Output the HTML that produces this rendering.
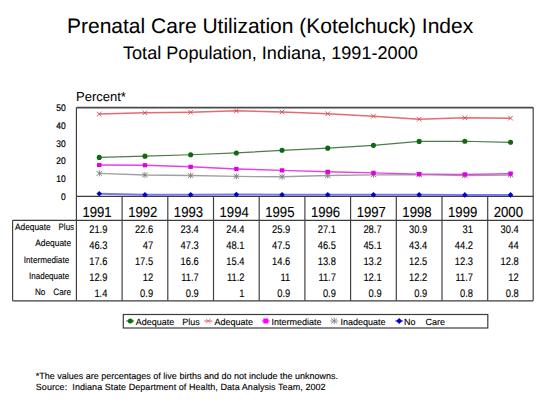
<!DOCTYPE html>
<html><head><meta charset="utf-8"><style>
html,body{margin:0;padding:0;background:#fff;width:540px;height:405px;overflow:hidden}
svg{display:block}
text{font-family:"Liberation Sans",sans-serif;text-rendering:geometricPrecision;fill:#000;stroke:#000;stroke-width:0.12px}
</style></head><body>
<svg width="540" height="405" viewBox="0 0 540 405">
<rect x="0" y="0" width="540" height="405" fill="#fff"/>

<text x="67" y="33.1" font-size="21" style="stroke-width:0.05px">Prenatal Care Utilization (Kotelchuck) Index</text>
<text x="123" y="59.1" font-size="18.1" style="stroke-width:0.05px">Total Population, Indiana, 1991-2000</text>
<text x="76" y="100.8" font-size="13" style="stroke-width:0.05px">Percent*</text>
<text transform="translate(65.7,111.00) scale(0.88,1)" font-size="9.6" style="stroke-width:0.22px" text-anchor="end">50</text>
<text transform="translate(65.7,128.76) scale(0.88,1)" font-size="9.6" style="stroke-width:0.22px" text-anchor="end">40</text>
<text transform="translate(65.7,146.52) scale(0.88,1)" font-size="9.6" style="stroke-width:0.22px" text-anchor="end">30</text>
<text transform="translate(65.7,164.28) scale(0.88,1)" font-size="9.6" style="stroke-width:0.22px" text-anchor="end">20</text>
<text transform="translate(65.7,182.04) scale(0.88,1)" font-size="9.6" style="stroke-width:0.22px" text-anchor="end">10</text>
<text transform="translate(65.7,199.80) scale(0.88,1)" font-size="9.6" style="stroke-width:0.22px" text-anchor="end">0</text>
<line x1="76.4" y1="107.7" x2="533.2" y2="107.7" stroke="#4a4a4a" stroke-width="1.7"/>
<line x1="76.4" y1="196.3" x2="533.2" y2="196.3" stroke="#3c3c3c" stroke-width="1.15"/>
<line x1="12.6" y1="220.3" x2="533.2" y2="220.3" stroke="#3c3c3c" stroke-width="1.15"/>
<line x1="12.6" y1="300.8" x2="533.2" y2="300.8" stroke="#3c3c3c" stroke-width="1.15"/>
<line x1="12.6" y1="220.3" x2="12.6" y2="300.8" stroke="#3c3c3c" stroke-width="1.15"/>
<line x1="76.4" y1="107.5" x2="76.4" y2="300.8" stroke="#3c3c3c" stroke-width="1.15"/>
<line x1="533.2" y1="107.5" x2="533.2" y2="300.8" stroke="#3c3c3c" stroke-width="1.15"/>
<line x1="122.10000000000001" y1="196.3" x2="122.10000000000001" y2="300.8" stroke="#3c3c3c" stroke-width="1.15"/>
<line x1="167.8" y1="196.3" x2="167.8" y2="300.8" stroke="#3c3c3c" stroke-width="1.15"/>
<line x1="213.50000000000003" y1="196.3" x2="213.50000000000003" y2="300.8" stroke="#3c3c3c" stroke-width="1.15"/>
<line x1="259.20000000000005" y1="196.3" x2="259.20000000000005" y2="300.8" stroke="#3c3c3c" stroke-width="1.15"/>
<line x1="304.9" y1="196.3" x2="304.9" y2="300.8" stroke="#3c3c3c" stroke-width="1.15"/>
<line x1="350.6" y1="196.3" x2="350.6" y2="300.8" stroke="#3c3c3c" stroke-width="1.15"/>
<line x1="396.30000000000007" y1="196.3" x2="396.30000000000007" y2="300.8" stroke="#3c3c3c" stroke-width="1.15"/>
<line x1="442.0" y1="196.3" x2="442.0" y2="300.8" stroke="#3c3c3c" stroke-width="1.15"/>
<line x1="487.70000000000005" y1="196.3" x2="487.70000000000005" y2="300.8" stroke="#3c3c3c" stroke-width="1.15"/>
<polyline points="99.25,114.07 144.95,112.83 190.65,112.30 236.35,110.87 282.05,111.94 327.75,113.72 373.45,116.20 419.15,119.22 464.85,117.80 510.55,118.16" fill="none" stroke="#e26c72" stroke-width="1.5"/>
<polyline points="99.25,157.41 144.95,156.16 190.65,154.74 236.35,152.97 282.05,150.30 327.75,148.17 373.45,145.33 419.15,141.42 464.85,141.24 510.55,142.31" fill="none" stroke="#4c7c4c" stroke-width="1.2"/>
<polyline points="99.25,173.39 144.95,174.99 190.65,175.52 236.35,176.41 282.05,176.76 327.75,175.52 373.45,174.81 419.15,174.63 464.85,175.52 510.55,174.99" fill="none" stroke="#a0a0a0" stroke-width="1.3"/>
<polyline points="99.25,165.04 144.95,165.22 190.65,166.82 236.35,168.95 282.05,170.37 327.75,171.79 373.45,172.86 419.15,174.10 464.85,174.46 510.55,173.57" fill="none" stroke="#e840e8" stroke-width="1.4"/>
<polyline points="99.25,193.81 144.95,194.70 190.65,194.70 236.35,194.52 282.05,194.70 327.75,194.70 373.45,194.70 419.15,194.70 464.85,194.88 510.55,194.88" fill="none" stroke="#7878f0" stroke-width="2.0"/>
<path d="M96.95,111.77L101.55,116.37M96.95,116.37L101.55,111.77" stroke="#d84858" stroke-width="0.9"/>
<path d="M142.65,110.53L147.25,115.13M142.65,115.13L147.25,110.53" stroke="#d84858" stroke-width="0.9"/>
<path d="M188.35,110.00L192.95,114.60M188.35,114.60L192.95,110.00" stroke="#d84858" stroke-width="0.9"/>
<path d="M234.05,108.57L238.65,113.17M234.05,113.17L238.65,108.57" stroke="#d84858" stroke-width="0.9"/>
<path d="M279.75,109.64L284.35,114.24M279.75,114.24L284.35,109.64" stroke="#d84858" stroke-width="0.9"/>
<path d="M325.45,111.42L330.05,116.02M325.45,116.02L330.05,111.42" stroke="#d84858" stroke-width="0.9"/>
<path d="M371.15,113.90L375.75,118.50M371.15,118.50L375.75,113.90" stroke="#d84858" stroke-width="0.9"/>
<path d="M416.85,116.92L421.45,121.52M416.85,121.52L421.45,116.92" stroke="#d84858" stroke-width="0.9"/>
<path d="M462.55,115.50L467.15,120.10M462.55,120.10L467.15,115.50" stroke="#d84858" stroke-width="0.9"/>
<path d="M508.25,115.86L512.85,120.46M508.25,120.46L512.85,115.86" stroke="#d84858" stroke-width="0.9"/>
<circle cx="99.25" cy="157.41" r="2.55" fill="#0e6a0e"/>
<circle cx="144.95" cy="156.16" r="2.55" fill="#0e6a0e"/>
<circle cx="190.65" cy="154.74" r="2.55" fill="#0e6a0e"/>
<circle cx="236.35" cy="152.97" r="2.55" fill="#0e6a0e"/>
<circle cx="282.05" cy="150.30" r="2.55" fill="#0e6a0e"/>
<circle cx="327.75" cy="148.17" r="2.55" fill="#0e6a0e"/>
<circle cx="373.45" cy="145.33" r="2.55" fill="#0e6a0e"/>
<circle cx="419.15" cy="141.42" r="2.55" fill="#0e6a0e"/>
<circle cx="464.85" cy="141.24" r="2.55" fill="#0e6a0e"/>
<circle cx="510.55" cy="142.31" r="2.55" fill="#0e6a0e"/>
<path d="M96.45,171.09L102.05,175.69M96.45,175.69L102.05,171.09M99.25,170.39L99.25,176.39" stroke="#7a7a7a" stroke-width="0.9"/>
<path d="M142.15,172.69L147.75,177.29M142.15,177.29L147.75,172.69M144.95,171.99L144.95,177.99" stroke="#7a7a7a" stroke-width="0.9"/>
<path d="M187.85,173.22L193.45,177.82M187.85,177.82L193.45,173.22M190.65,172.52L190.65,178.52" stroke="#7a7a7a" stroke-width="0.9"/>
<path d="M233.55,174.11L239.15,178.71M233.55,178.71L239.15,174.11M236.35,173.41L236.35,179.41" stroke="#7a7a7a" stroke-width="0.9"/>
<path d="M279.25,174.46L284.85,179.06M279.25,179.06L284.85,174.46M282.05,173.76L282.05,179.76" stroke="#7a7a7a" stroke-width="0.9"/>
<path d="M324.95,173.22L330.55,177.82M324.95,177.82L330.55,173.22M327.75,172.52L327.75,178.52" stroke="#7a7a7a" stroke-width="0.9"/>
<path d="M370.65,172.51L376.25,177.11M370.65,177.11L376.25,172.51M373.45,171.81L373.45,177.81" stroke="#7a7a7a" stroke-width="0.9"/>
<path d="M416.35,172.33L421.95,176.93M416.35,176.93L421.95,172.33M419.15,171.63L419.15,177.63" stroke="#7a7a7a" stroke-width="0.9"/>
<path d="M462.05,173.22L467.65,177.82M462.05,177.82L467.65,173.22M464.85,172.52L464.85,178.52" stroke="#7a7a7a" stroke-width="0.9"/>
<path d="M507.75,172.69L513.35,177.29M507.75,177.29L513.35,172.69M510.55,171.99L510.55,177.99" stroke="#7a7a7a" stroke-width="0.9"/>
<rect x="97.05" y="162.94" width="4.4" height="4.2" fill="#e000e0"/>
<rect x="142.75" y="163.12" width="4.4" height="4.2" fill="#e000e0"/>
<rect x="188.45" y="164.72" width="4.4" height="4.2" fill="#e000e0"/>
<rect x="234.15" y="166.85" width="4.4" height="4.2" fill="#e000e0"/>
<rect x="279.85" y="168.27" width="4.4" height="4.2" fill="#e000e0"/>
<rect x="325.55" y="169.69" width="4.4" height="4.2" fill="#e000e0"/>
<rect x="371.25" y="170.76" width="4.4" height="4.2" fill="#e000e0"/>
<rect x="416.95" y="172.00" width="4.4" height="4.2" fill="#e000e0"/>
<rect x="462.65" y="172.36" width="4.4" height="4.2" fill="#e000e0"/>
<rect x="508.35" y="171.47" width="4.4" height="4.2" fill="#e000e0"/>
<path d="M99.25,191.01L102.05,193.81L99.25,196.61L96.45,193.81Z" fill="#0000c8"/>
<path d="M144.95,191.90L147.75,194.70L144.95,197.50L142.15,194.70Z" fill="#0000c8"/>
<path d="M190.65,191.90L193.45,194.70L190.65,197.50L187.85,194.70Z" fill="#0000c8"/>
<path d="M236.35,191.72L239.15,194.52L236.35,197.32L233.55,194.52Z" fill="#0000c8"/>
<path d="M282.05,191.90L284.85,194.70L282.05,197.50L279.25,194.70Z" fill="#0000c8"/>
<path d="M327.75,191.90L330.55,194.70L327.75,197.50L324.95,194.70Z" fill="#0000c8"/>
<path d="M373.45,191.90L376.25,194.70L373.45,197.50L370.65,194.70Z" fill="#0000c8"/>
<path d="M419.15,191.90L421.95,194.70L419.15,197.50L416.35,194.70Z" fill="#0000c8"/>
<path d="M464.85,192.08L467.65,194.88L464.85,197.68L462.05,194.88Z" fill="#0000c8"/>
<path d="M510.55,192.08L513.35,194.88L510.55,197.68L507.75,194.88Z" fill="#0000c8"/>
<text transform="translate(97.05,216.75) scale(0.9,1)" font-size="14.6" text-anchor="middle">1991</text>
<text transform="translate(142.75,216.75) scale(0.9,1)" font-size="14.6" text-anchor="middle">1992</text>
<text transform="translate(188.45,216.75) scale(0.9,1)" font-size="14.6" text-anchor="middle">1993</text>
<text transform="translate(234.15,216.75) scale(0.9,1)" font-size="14.6" text-anchor="middle">1994</text>
<text transform="translate(279.85,216.75) scale(0.9,1)" font-size="14.6" text-anchor="middle">1995</text>
<text transform="translate(325.55,216.75) scale(0.9,1)" font-size="14.6" text-anchor="middle">1996</text>
<text transform="translate(371.25,216.75) scale(0.9,1)" font-size="14.6" text-anchor="middle">1997</text>
<text transform="translate(416.95,216.75) scale(0.9,1)" font-size="14.6" text-anchor="middle">1998</text>
<text transform="translate(462.65,216.75) scale(0.9,1)" font-size="14.6" text-anchor="middle">1999</text>
<text transform="translate(508.35,216.75) scale(0.9,1)" font-size="14.6" text-anchor="middle">2000</text>
<text x="15.0" y="230.4" font-size="9.2" textLength="35.6" lengthAdjust="spacingAndGlyphs">Adequate</text>
<text x="58.6" y="230.4" font-size="9.2" textLength="15.4" lengthAdjust="spacingAndGlyphs">Plus</text>
<text x="35.2" y="246.1" font-size="9.2" textLength="35.9" lengthAdjust="spacingAndGlyphs">Adequate</text>
<text x="23.8" y="262.6" font-size="9.2" textLength="45.4" lengthAdjust="spacingAndGlyphs">Intermediate</text>
<text x="29.0" y="278.8" font-size="9.2" textLength="40.2" lengthAdjust="spacingAndGlyphs">Inadequate</text>
<text x="35.0" y="294.7" font-size="9.2" textLength="10.4" lengthAdjust="spacingAndGlyphs">No</text>
<text x="53.2" y="294.7" font-size="9.2" textLength="17.9" lengthAdjust="spacingAndGlyphs">Care</text>
<text transform="translate(107.40,232.80) scale(0.85,1)" font-size="11" text-anchor="end">21.9</text>
<text transform="translate(153.10,232.80) scale(0.85,1)" font-size="11" text-anchor="end">22.6</text>
<text transform="translate(198.80,232.80) scale(0.85,1)" font-size="11" text-anchor="end">23.4</text>
<text transform="translate(244.50,232.80) scale(0.85,1)" font-size="11" text-anchor="end">24.4</text>
<text transform="translate(290.20,232.80) scale(0.85,1)" font-size="11" text-anchor="end">25.9</text>
<text transform="translate(335.90,232.80) scale(0.85,1)" font-size="11" text-anchor="end">27.1</text>
<text transform="translate(381.60,232.80) scale(0.85,1)" font-size="11" text-anchor="end">28.7</text>
<text transform="translate(427.30,232.80) scale(0.85,1)" font-size="11" text-anchor="end">30.9</text>
<text transform="translate(473.00,232.80) scale(0.85,1)" font-size="11" text-anchor="end">31</text>
<text transform="translate(518.70,232.80) scale(0.85,1)" font-size="11" text-anchor="end">30.4</text>
<text transform="translate(107.40,248.80) scale(0.85,1)" font-size="11" text-anchor="end">46.3</text>
<text transform="translate(153.10,248.80) scale(0.85,1)" font-size="11" text-anchor="end">47</text>
<text transform="translate(198.80,248.80) scale(0.85,1)" font-size="11" text-anchor="end">47.3</text>
<text transform="translate(244.50,248.80) scale(0.85,1)" font-size="11" text-anchor="end">48.1</text>
<text transform="translate(290.20,248.80) scale(0.85,1)" font-size="11" text-anchor="end">47.5</text>
<text transform="translate(335.90,248.80) scale(0.85,1)" font-size="11" text-anchor="end">46.5</text>
<text transform="translate(381.60,248.80) scale(0.85,1)" font-size="11" text-anchor="end">45.1</text>
<text transform="translate(427.30,248.80) scale(0.85,1)" font-size="11" text-anchor="end">43.4</text>
<text transform="translate(473.00,248.80) scale(0.85,1)" font-size="11" text-anchor="end">44.2</text>
<text transform="translate(518.70,248.80) scale(0.85,1)" font-size="11" text-anchor="end">44</text>
<text transform="translate(107.40,264.80) scale(0.85,1)" font-size="11" text-anchor="end">17.6</text>
<text transform="translate(153.10,264.80) scale(0.85,1)" font-size="11" text-anchor="end">17.5</text>
<text transform="translate(198.80,264.80) scale(0.85,1)" font-size="11" text-anchor="end">16.6</text>
<text transform="translate(244.50,264.80) scale(0.85,1)" font-size="11" text-anchor="end">15.4</text>
<text transform="translate(290.20,264.80) scale(0.85,1)" font-size="11" text-anchor="end">14.6</text>
<text transform="translate(335.90,264.80) scale(0.85,1)" font-size="11" text-anchor="end">13.8</text>
<text transform="translate(381.60,264.80) scale(0.85,1)" font-size="11" text-anchor="end">13.2</text>
<text transform="translate(427.30,264.80) scale(0.85,1)" font-size="11" text-anchor="end">12.5</text>
<text transform="translate(473.00,264.80) scale(0.85,1)" font-size="11" text-anchor="end">12.3</text>
<text transform="translate(518.70,264.80) scale(0.85,1)" font-size="11" text-anchor="end">12.8</text>
<text transform="translate(107.40,280.80) scale(0.85,1)" font-size="11" text-anchor="end">12.9</text>
<text transform="translate(153.10,280.80) scale(0.85,1)" font-size="11" text-anchor="end">12</text>
<text transform="translate(198.80,280.80) scale(0.85,1)" font-size="11" text-anchor="end">11.7</text>
<text transform="translate(244.50,280.80) scale(0.85,1)" font-size="11" text-anchor="end">11.2</text>
<text transform="translate(290.20,280.80) scale(0.85,1)" font-size="11" text-anchor="end">11</text>
<text transform="translate(335.90,280.80) scale(0.85,1)" font-size="11" text-anchor="end">11.7</text>
<text transform="translate(381.60,280.80) scale(0.85,1)" font-size="11" text-anchor="end">12.1</text>
<text transform="translate(427.30,280.80) scale(0.85,1)" font-size="11" text-anchor="end">12.2</text>
<text transform="translate(473.00,280.80) scale(0.85,1)" font-size="11" text-anchor="end">11.7</text>
<text transform="translate(518.70,280.80) scale(0.85,1)" font-size="11" text-anchor="end">12</text>
<text transform="translate(107.40,296.80) scale(0.85,1)" font-size="11" text-anchor="end">1.4</text>
<text transform="translate(153.10,296.80) scale(0.85,1)" font-size="11" text-anchor="end">0.9</text>
<text transform="translate(198.80,296.80) scale(0.85,1)" font-size="11" text-anchor="end">0.9</text>
<text transform="translate(244.50,296.80) scale(0.85,1)" font-size="11" text-anchor="end">1</text>
<text transform="translate(290.20,296.80) scale(0.85,1)" font-size="11" text-anchor="end">0.9</text>
<text transform="translate(335.90,296.80) scale(0.85,1)" font-size="11" text-anchor="end">0.9</text>
<text transform="translate(381.60,296.80) scale(0.85,1)" font-size="11" text-anchor="end">0.9</text>
<text transform="translate(427.30,296.80) scale(0.85,1)" font-size="11" text-anchor="end">0.9</text>
<text transform="translate(473.00,296.80) scale(0.85,1)" font-size="11" text-anchor="end">0.8</text>
<text transform="translate(518.70,296.80) scale(0.85,1)" font-size="11" text-anchor="end">0.8</text>
<rect x="123.3" y="314.5" width="364.5" height="13.5" fill="none" stroke="#3c3c3c" stroke-width="1.2"/>
<line x1="126.3" y1="321" x2="134" y2="321" stroke="#2f6f2f" stroke-width="1.2"/><circle cx="130.3" cy="321" r="2.5" fill="#0a6e0a"/>
<text x="135.8" y="324.7" font-size="9">Adequate</text><text x="182.3" y="324.7" font-size="9">Plus</text>
<line x1="204.3" y1="321" x2="212.3" y2="321" stroke="#e0506a" stroke-width="1"/><path d="M206.10000000000002,318.8L210.5,323.2M206.10000000000002,323.2L210.5,318.8" stroke="#e06070" stroke-width="0.9"/>
<text x="214.6" y="324.7" font-size="9">Adequate</text>
<line x1="261.8" y1="321" x2="269.8" y2="321" stroke="#ff30ff" stroke-width="1.2"/><rect x="263.3" y="318.5" width="5" height="5" fill="#ff00ff"/>
<text x="271.6" y="324.7" font-size="9">Intermediate</text>
<line x1="330.2" y1="321" x2="338.2" y2="321" stroke="#9a9a9a" stroke-width="1"/><path d="M331.2,318.5L337.2,323.5M331.2,323.5L337.2,318.5M334.2,317.8L334.2,324.2" stroke="#8a8a8a" stroke-width="1"/>
<text x="340.4" y="324.7" font-size="9">Inadequate</text>
<line x1="395.2" y1="321" x2="403.2" y2="321" stroke="#7070f0" stroke-width="1.4"/><path d="M399.2,318L402.2,321L399.2,324L396.2,321Z" fill="#0000d0"/>
<text x="404" y="324.7" font-size="9">No    Care</text>
<text x="35.8" y="378.8" font-size="9">*The values are percentages of live births and do not include the unknowns.</text>
<text x="35.8" y="389.5" font-size="9" textLength="289.8" lengthAdjust="spacing">Source:  Indiana State Department of Health, Data Analysis Team, 2002</text>
</svg></body></html>
